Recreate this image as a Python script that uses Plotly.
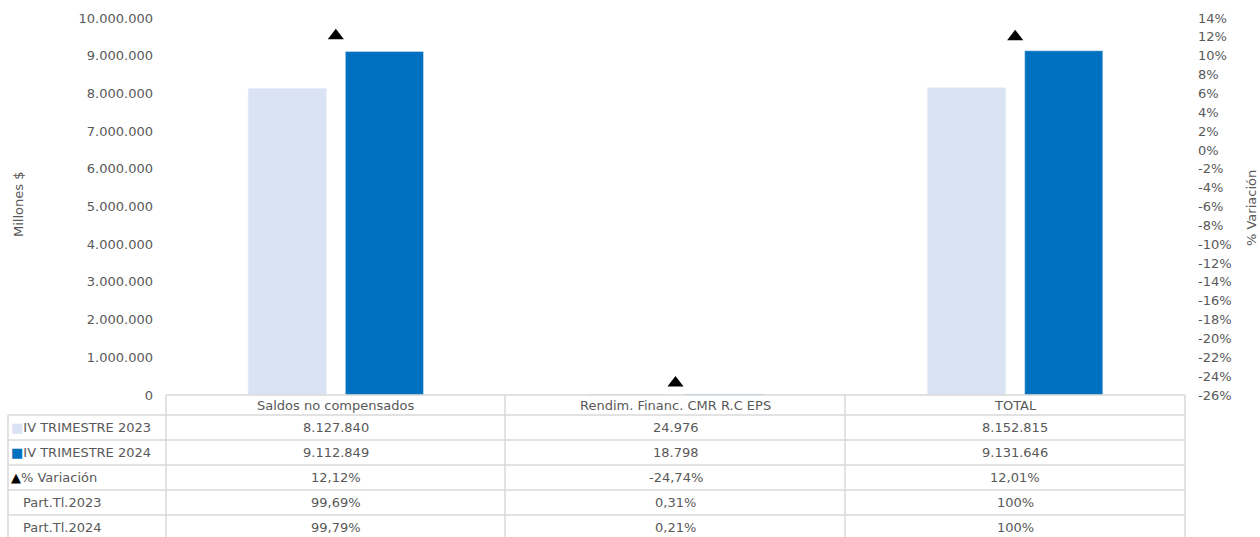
import plotly.graph_objects as go

categories = ["Saldos no compensados", "Rendim. Financ. CMR R.C EPS", "TOTAL"]
vals_2023 = [8127840, 24976, 8152815]
vals_2024 = [9112849, 18798, 9131646]
variacion = [0.1212, -0.2474, 0.1201]
part_2023 = ["99,69%", "0,31%", "100%"]
part_2024 = ["99,79%", "0,21%", "100%"]
labels_2023 = ["8.127.840", "24.976", "8.152.815"]
labels_2024 = ["9.112.849", "18.798", "9.131.646"]
labels_var = ["12,12%", "-24,74%", "12,01%"]
row_names = ["IV TRIMESTRE 2023", "IV TRIMESTRE 2024", "% Variación", "Part.Tl.2023", "Part.Tl.2024"]
pct_tick_vals = [0.14, 0.12, 0.10, 0.08, 0.06, 0.04, 0.02, 0.0, -0.02, -0.04, -0.06, -0.08,
                 -0.10, -0.12, -0.14, -0.16, -0.18, -0.20, -0.22, -0.24, -0.26]
pct_tick_text = ["14%", "12%", "10%", "8%", "6%", "4%", "2%", "0%", "-2%", "-4%", "-6%", "-8%",
                 "-10%", "-12%", "-14%", "-16%", "-18%", "-20%", "-22%", "-24%", "-26%"]

C23 = "#DAE3F3"
C24 = "#0070C0"
TXT = "#595959"
GRID = "#D9D9D9"
FONT = "DejaVu Sans"

W, H = 1260, 537
L, R, T, B = 166, 1185, 18, 395


def px(x):
    return (x - L) / (R - L)


def py(y):
    return (B - y) / (B - T)


fig = go.Figure()
fig.add_trace(go.Bar(x=categories, y=vals_2023, name="IV TRIMESTRE 2023",
                     marker_color=C23, width=0.23, offset=-0.258))
fig.add_trace(go.Bar(x=categories, y=vals_2024, name="IV TRIMESTRE 2024",
                     marker_color=C24, width=0.23, offset=0.028))
fig.add_trace(go.Scatter(x=categories, y=variacion, name="% Variación", yaxis="y2",
                         mode="markers",
                         marker=dict(symbol="triangle-up", size=14, color="black")))

shapes = []
ann = []


def hline(y, x0, x1):
    shapes.append(dict(type="line", xref="paper", yref="paper", x0=px(x0), x1=px(x1),
                       y0=py(y), y1=py(y), line=dict(color=GRID, width=1.5)))


def vline(x, y0, y1):
    shapes.append(dict(type="line", xref="paper", yref="paper", x0=px(x), x1=px(x),
                       y0=py(y0), y1=py(y1), line=dict(color=GRID, width=1.5)))


hline(395, 166, 1185)
for yy in [415, 440, 465, 490, 515]:
    hline(yy, 8, 1185)
vline(8, 415, 545)
for xx in [166, 505, 845, 1185]:
    vline(xx, 395, 545)

row_y = [427.5, 452.5, 477.5, 502.5, 527]
row_vals = [labels_2023, labels_2024, labels_var, part_2023, part_2024]

for c in categories:
    ann.append(dict(x=c, xref="x", y=py(405), yref="paper", text=c, showarrow=False,
                    font=dict(size=13, color=TXT, family=FONT), xanchor="center", yanchor="middle"))

prefixes = [f"<span style='color:{C23}'>■</span>", f"<span style='color:{C24}'>■</span>",
            "<span style='color:black'>▲</span>", "", ""]
for i, name in enumerate(row_names):
    ann.append(dict(x=px(9), xref="paper", y=py(row_y[i]), yref="paper",
                    text=prefixes[i] + name, showarrow=False,
                    font=dict(size=13, color=TXT, family=FONT), xanchor="left", yanchor="middle",
                    xshift=(12 if i >= 3 else 0)))
    for j, c in enumerate(categories):
        ann.append(dict(x=c, xref="x", y=py(row_y[i]), yref="paper", text=row_vals[i][j],
                        showarrow=False, font=dict(size=13, color=TXT, family=FONT),
                        xanchor="center", yanchor="middle"))

ann.append(dict(x=px(18), xref="paper", y=py(205), yref="paper", text="Millones $",
                textangle=-90, showarrow=False, font=dict(size=13, color=TXT, family=FONT),
                xanchor="center", yanchor="middle"))
ann.append(dict(x=px(1251), xref="paper", y=py(208), yref="paper", text="% Variación",
                textangle=-90, showarrow=False, font=dict(size=13, color=TXT, family=FONT),
                xanchor="center", yanchor="middle"))

fig.update_layout(
    width=W, height=H,
    margin=dict(l=L, r=W - R, t=T, b=H - B, autoexpand=False),
    paper_bgcolor="white", plot_bgcolor="white",
    separators=",.",
    showlegend=False,
    barmode="group",
    font=dict(family=FONT, size=13, color=TXT),
    xaxis=dict(showticklabels=False, showgrid=False, zeroline=False, showline=False,
               range=[-0.5, 2.5], automargin=False),
    yaxis=dict(range=[0, 10000000], dtick=1000000, tickformat=",d", showgrid=False,
               zeroline=False, showline=False, ticklabelstandoff=12, automargin=False),
    yaxis2=dict(overlaying="y", side="right", range=[-0.26, 0.14],
                tickmode="array", tickvals=pct_tick_vals, ticktext=pct_tick_text,
                showgrid=False, zeroline=False, showline=False,
                ticklabelstandoff=12, automargin=False),
    shapes=shapes,
    annotations=ann,
)

fig.write_html(
    "out.html",
    config={"displayModeBar": False},
    post_script="document.body.style.margin='0';document.documentElement.style.overflow='hidden';",
)
